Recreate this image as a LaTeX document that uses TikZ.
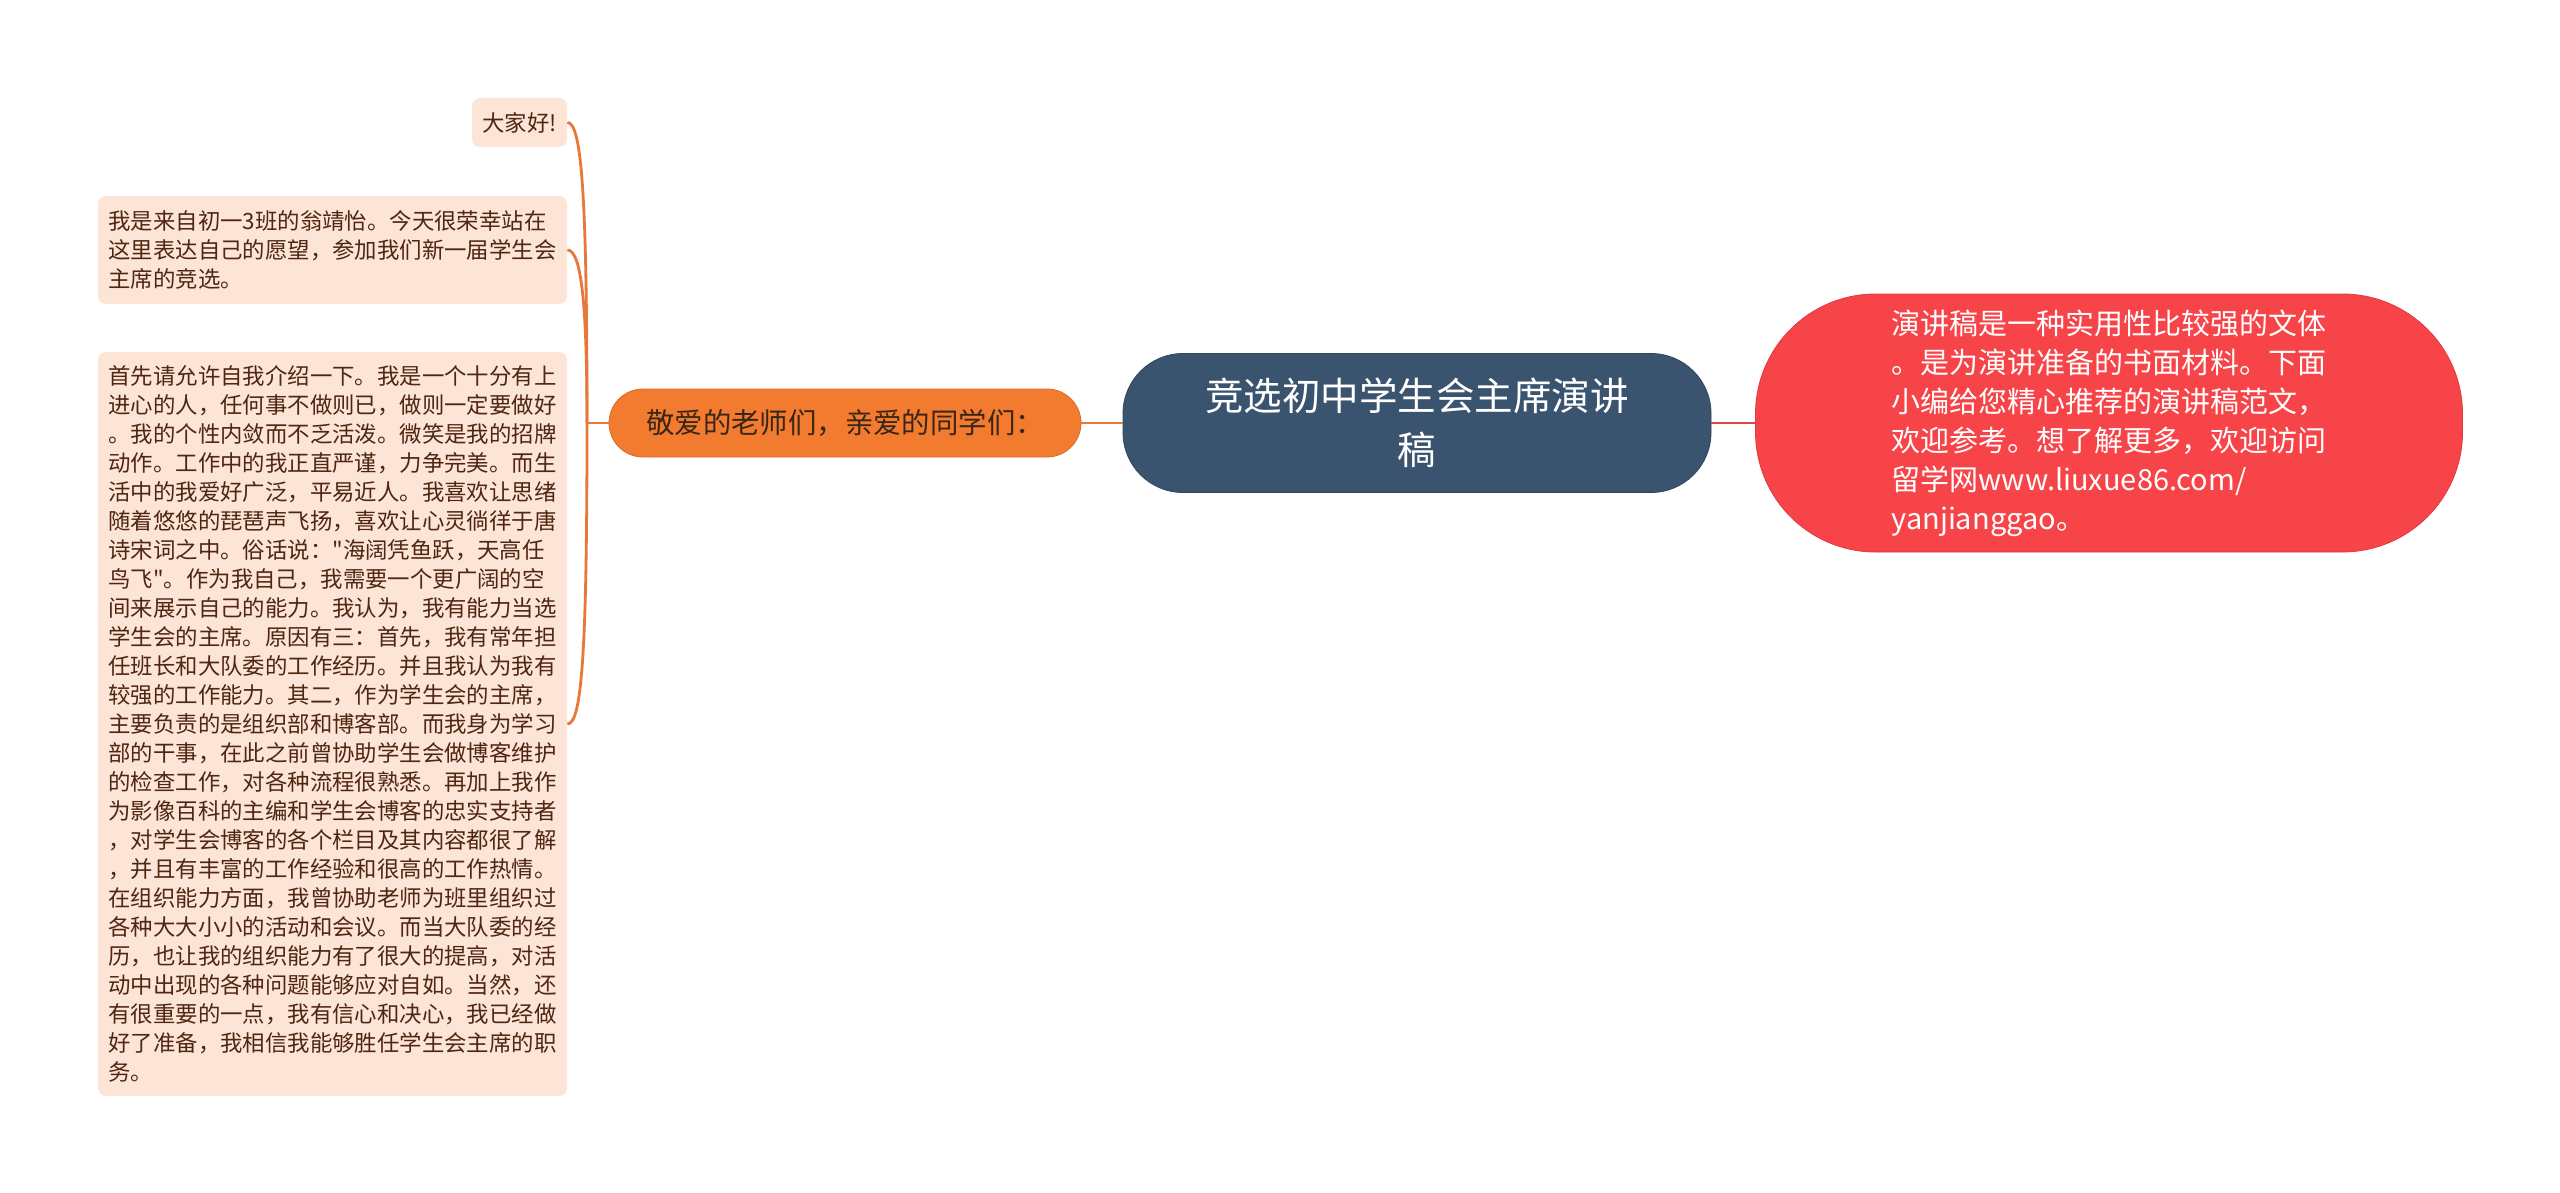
\documentclass[tikz,border=0pt]{standalone}
\usepackage{fontspec}
\newfontfamily\cjkfont{Noto Sans CJK SC}
\usepackage{tikz}
\usepackage{xcolor}

\definecolor{topicbg}{HTML}{3A546F}
\definecolor{topicline}{HTML}{2E465E}
\definecolor{notebg}{HTML}{F74448}
\definecolor{noteline}{HTML}{E0393D}
\definecolor{branchbg}{HTML}{F37B2F}
\definecolor{branchline}{HTML}{DA6A28}
\definecolor{branchtext}{HTML}{3A2616}
\definecolor{leafbg}{HTML}{FCE4D6}
\definecolor{leaftext}{HTML}{4E2612}
\definecolor{leftlink}{HTML}{E8773A}
\definecolor{rightlink}{HTML}{E04646}

\begin{document}
\begin{tikzpicture}[
    x=0.5pt, y=-0.5pt,
    every node/.style={inner sep=0pt},
    topic/.style={draw=topicline, fill=topicbg, text=white, rounded corners=30pt,
                  minimum width=294pt, minimum height=69.5pt, align=center,
                  font=\cjkfont\fontsize{19.25pt}{27pt}\selectfont},
    note/.style={draw=noteline, fill=notebg, text=white, rounded corners=60pt,
                 minimum width=353.5pt, minimum height=129pt, align=left,
                 font=\cjkfont\fontsize{14.5pt}{19.5pt}\selectfont},
    branch/.style={draw=branchline, fill=branchbg, text=branchtext, rounded corners=17pt,
                   minimum width=236pt, minimum height=34pt,
                   font=\cjkfont\fontsize{14.2pt}{17pt}\selectfont},
    leaf/.style={fill=leafbg, text=leaftext, rounded corners=4pt, align=left,
                 font=\cjkfont\fontsize{11.2pt}{14.5pt}\selectfont},
    llink/.style={draw=leftlink, line width=1.4pt},
    rlink/.style={draw=rightlink, line width=1.4pt},
]

% --- Рамка страницы -------------------------------------------------
\useasboundingbox (0,0) rectangle (2560,1193);
\fill[white] (0,0) rectangle (2560,1193);

% --- Центральная тема -----------------------------------------------
\node[topic] (topic) at (1417, 423) {竞选初中学生会主席演讲\\稿};

% --- Пояснение справа ------------------------------------------------
\node[note] (note) at (2109, 423)
    {演讲稿是一种实用性比较强的文体\\
     。是为演讲准备的书面材料。下面\\
     小编给您精心推荐的演讲稿范文，\\
     欢迎参考。想了解更多，欢迎访问\\
     留学网www.liuxue86.com/\\
     yanjianggao。};

% --- Ветка слева ------------------------------------------------------
\node[branch] (branch) at (845, 423) {敬爱的老师们，亲爱的同学们：};

% --- Листья ветки ------------------------------------------------------
\node[leaf, minimum width=47.5pt, minimum height=24.5pt] (hello) at (519.5, 122.5) {大家好!};

\node[leaf, minimum width=234.5pt, minimum height=54pt] (intro) at (332.5, 250)
    {我是来自初一3班的翁靖怡。今天很荣幸站在\\
     这里表达自己的愿望，参加我们新一届学生会\\
     主席的竞选。};

\node[leaf, minimum width=234.5pt, minimum height=372pt] (body) at (332.5, 724)
    {首先请允许自我介绍一下。我是一个十分有上\\
     进心的人，任何事不做则已，做则一定要做好\\
     。我的个性内敛而不乏活泼。微笑是我的招牌\\
     动作。工作中的我正直严谨，力争完美。而生\\
     活中的我爱好广泛，平易近人。我喜欢让思绪\\
     随着悠悠的琵琶声飞扬，喜欢让心灵徜徉于唐\\
     诗宋词之中。俗话说："海阔凭鱼跃，天高任\\
     鸟飞"。作为我自己，我需要一个更广阔的空\\
     间来展示自己的能力。我认为，我有能力当选\\
     学生会的主席。原因有三：首先，我有常年担\\
     任班长和大队委的工作经历。并且我认为我有\\
     较强的工作能力。其二，作为学生会的主席，\\
     主要负责的是组织部和博客部。而我身为学习\\
     部的干事，在此之前曾协助学生会做博客维护\\
     的检查工作，对各种流程很熟悉。再加上我作\\
     为影像百科的主编和学生会博客的忠实支持者\\
     ，对学生会博客的各个栏目及其内容都很了解\\
     ，并且有丰富的工作经验和很高的工作热情。\\
     在组织能力方面，我曾协助老师为班里组织过\\
     各种大大小小的活动和会议。而当大队委的经\\
     历，也让我的组织能力有了很大的提高，对活\\
     动中出现的各种问题能够应对自如。当然，还\\
     有很重要的一点，我有信心和决心，我已经做\\
     好了准备，我相信我能够胜任学生会主席的职\\
     务。};

% --- Связи -----------------------------------------------------------
\draw[rlink] (topic.east) -- (note.west);
\draw[llink] (topic.west) -- (branch.east);

\coordinate (hub) at (587, 423);
\draw[llink] (branch.west) -- (hub);
\draw[llink] (hub) .. controls (587, 200) and (582, 122.5) .. (hello.east);
\draw[llink] (hub) .. controls (587, 310) and (582, 250) .. (intro.east);
\draw[llink] (hub) .. controls (587, 650) and (582, 724) .. (body.east);

\end{tikzpicture}
\end{document}
